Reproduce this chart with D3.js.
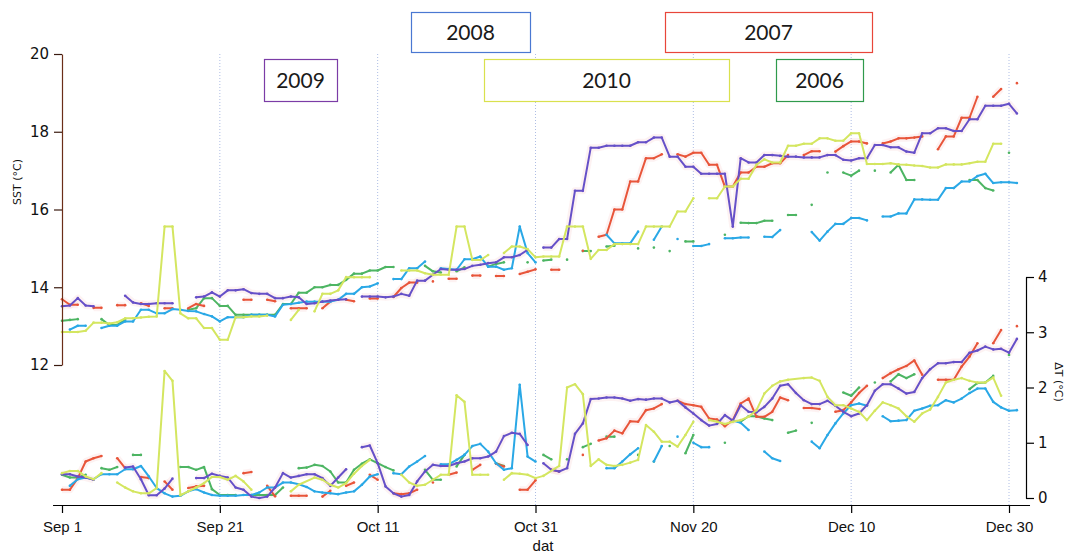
<!DOCTYPE html>
<html>
<head>
<meta charset="utf-8">
<script src="https://cdn.jsdelivr.net/npm/d3@7"></script>
<style>
body { margin: 0; background: #fff; }
svg { display: block; }
</style>
</head>
<body>
<svg id="chart"></svg>
<script>
// days counted from Sep 1, null = gap in the record
let sst2006 = [[0,13.14],[1,13.16],[2,13.18],null,[5,13.18],[6,13.03],[7,13.03],[8,13.16],null,
  [16,13.42],[17,13.46],[18,13.72],[19,13.72],[20,13.52],[21,13.52],[22,13.29],[23,13.29],[24,13.29],[25,13.29],[26,13.29],[27,13.29],[28,13.57],[29,13.57],[30,13.86],[31,13.86],[32,14.0],[33,14.0],[34,14.06],[35,14.06],[36,14.19],[37,14.35],[38,14.35],[39,14.43],[40,14.43],[41,14.52],[42,14.52],null,
  [46,14.55],[47,14.41],[48,14.38],null,[50,14.41],[51,14.51],null,[54,14.53],[55,14.6],[56,14.64],null,[59,14.64],null,[61,14.69],[62,14.71],null,[64,14.71],null,
  [66,14.93],[67,14.93],null,[69,15.05],[70,15.07],null,[73,15.0],null,[75,15.02],null,[77,14.93],null,[79,15.18],[80,15.18],null,[84,15.35],null,
  [86,15.66],[87,15.65],[88,15.65],[89,15.71],[90,15.71],null,[92,15.86],[93,15.86],null,[95,16.12],null,[97,16.95],null,[99,16.95],[100,16.87],[101,17.0],null,[103,17.0],null,
  [105,16.95],[106,17.15],[107,16.76],[108,16.76],null,[115,16.76],[116,16.76],[117,16.55],[118,16.49],null,[120,17.46]]

let sst2007 = [[0,13.69],[1,13.55],[2,13.55],null,[4,13.47],[5,13.47],null,[7,13.54],[8,13.54],null,[10,13.59],[11,13.52],null,[13,13.46],[14,13.46],null,[16,13.46],[17,13.57],[18,13.52],null,
  [23,13.68],[24,13.68],null,[26,13.68],[27,13.64],null,[29,13.46],[30,13.46],[31,13.46],null,[33,13.46],[34,13.63],null,[36,13.68],[37,13.64],null,[39,13.71],[40,13.71],null,
  [42,13.75],[43,13.98],[44,14.12],[45,14.12],null,[47,14.15],null,[49,14.22],[50,14.22],null,[52,14.30],[53,14.30],null,[55,14.29],[56,14.29],null,[58,14.34],[59,14.40],[60,14.46],null,
  [62,14.45],[63,14.45],null,[66,14.94],null,[68,15.30],[69,15.35],[70,16.0],[71,16.0],[72,16.72],[73,16.72],[74,17.32],[75,17.32],[76,17.42],null,
  [78,17.42],[79,17.36],[80,17.46],[81,17.46],[82,17.15],[83,17.15],[84,16.59],[85,16.59],[86,16.95],[87,16.95],[88,17.10],[89,17.10],[90,17.19],[91,17.19],[92,17.40],null,
  [94,17.40],[95,17.50],[96,17.50],null,[98,17.49],[99,17.63],[100,17.75],[101,17.75],[102,17.70],null,[104,17.70],[105,17.75],[106,17.83],[107,17.83],[108,17.85],[109,17.88],null,
  [111,17.55],[112,17.88],[113,17.88],[114,18.36],[115,18.36],[116,18.90],null,[118,18.90],[119,19.10],null,[121,19.25]]

let sst2008 = [[1,12.91],[2,13.01],[3,13.01],null,[5,12.95],[6,13.01],[7,13.01],[8,13.12],[9,13.12],[10,13.42],[11,13.42],[12,13.33],[13,13.33],[14,13.44],[15,13.42],[16,13.39],[17,13.38],[18,13.31],[19,13.25],[20,13.12],
  [21,13.23],[22,13.23],[23,13.23],[24,13.29],[25,13.29],[26,13.29],[27,13.25],[28,13.55],[29,13.57],[30,13.60],[31,13.63],[32,13.63],[33,13.63],[34,13.63],[35,13.68],[36,13.83],[37,13.83],[38,14.0],[39,14.02],[40,14.1],null,
  [42,14.21],[43,14.21],[44,14.49],[45,14.49],[46,14.66],null,[48,14.49],[49,14.47],[50,14.45],[51,14.72],[52,14.72],[53,14.79],[54,14.53],[55,14.53],[56,14.45],[57,14.49],[58,15.56],[59,14.88],[60,14.64],null,
  [69,15.35],[70,15.13],[71,15.13],[72,15.13],[73,15.43],null,[75,15.22],[76,15.56],null,[78,15.24],null,[80,15.06],[81,15.06],[82,15.11],null,[84,15.26],[85,15.26],[86,15.28],[87,15.28],null,[89,15.30],[90,15.29],[91,15.47],null,
  [95,15.42],[96,15.20],[97,15.43],[98,15.63],[99,15.63],[100,15.78],[101,15.78],[102,15.72],null,[104,15.82],[105,15.82],[106,15.90],[107,15.90],[108,16.26],[109,16.26],[110,16.25],[111,16.25],
  [112,16.55],[113,16.55],[114,16.72],[115,16.72],[116,16.86],[117,16.92],[118,16.68],[119,16.70],[120,16.70],[121,16.68]]

let sst2009 = [[0,13.51],[1,13.53],[2,13.72],[3,13.53],[4,13.51],null,[8,13.78],[9,13.61],[10,13.57],[11,13.57],[12,13.59],[13,13.59],[14,13.59],null,
  [17,13.74],[18,13.76],[19,13.87],[20,13.76],[21,13.92],[22,13.92],[23,13.95],[24,13.85],[25,13.83],[26,13.83],[27,13.72],[28,13.72],[29,13.76],[30,13.74],[31,13.57],[32,13.59],[33,13.63],[34,13.66],[35,13.68],[36,13.69],null,
  [38,13.76],[39,13.76],[40,13.76],[41,13.74],[42,13.76],[43,13.83],[44,13.78],[45,14.17],[46,14.17],[47,14.32],[48,14.47],[49,14.45],[50,14.45],[51,14.47],[52,14.55],[53,14.58],[54,14.62],[55,14.64],[56,14.77],[57,14.77],[58,14.83],[59,14.96],null,
  [61,15.02],[62,15.02],[63,15.24],[64,15.24],[65,16.48],[66,16.48],[67,17.59],[68,17.59],[69,17.64],[70,17.64],[71,17.64],[72,17.64],[73,17.73],[74,17.73],[75,17.85],[76,17.85],[77,17.36],[78,17.36],[79,17.10],[80,17.10],
  [81,16.92],[82,16.92],[83,16.92],[84,16.92],[85,15.56],[86,17.32],[87,17.21],[88,17.21],[89,17.40],[90,17.40],[91,17.38],[92,17.36],[93,17.36],[94,17.34],[95,17.34],[96,17.34],[97,17.40],[98,17.40],[99,17.28],[100,17.26],
  [101,17.32],[102,17.32],[103,17.66],[104,17.66],[105,17.60],[106,17.60],[107,17.49],[108,17.46],[109,17.96],[110,17.96],[111,18.09],[112,18.09],[113,18.02],[114,18.02],[115,18.32],[116,18.32],[117,18.67],[118,18.67],[119,18.67],[120,18.72],[121,18.47]]

let sst2010 = [[0,12.85],[1,12.85],[2,12.85],[3,12.88],[4,13.09],[5,13.09],[6,13.07],[7,13.1],[8,13.2],[9,13.2],[10,13.22],[11,13.24],[12,13.25],[13,15.56],[14,15.56],[15,13.33],[16,13.2],[17,13.2],[18,12.95],[19,12.95],[20,12.65],
  [21,12.65],[22,13.23],[23,13.23],[24,13.25],[25,13.25],[26,13.27],null,[29,13.16],[30,13.42],null,[32,13.38],[33,13.83],[34,13.83],[35,13.92],[36,14.26],[37,14.26],[38,14.26],[39,14.26],null,
  [43,14.43],[44,14.43],[45,14.43],[46,14.36],[47,14.32],[48,14.32],[49,14.32],[50,15.56],[51,15.56],[52,14.70],[53,14.70],[54,14.83],null,[56,14.88],[57,15.05],[58,15.05],[59,14.98],[60,14.77],
  [61,14.79],[62,14.79],[63,14.79],[64,15.56],[65,15.56],[66,15.56],[67,14.73],[68,14.96],[69,14.96],[70,15.11],[71,15.11],[72,15.11],[73,15.11],[74,15.56],[75,15.56],[76,15.56],[77,15.56],[78,15.95],[79,15.95],[80,16.29],null,
  [82,16.29],[83,16.29],[84,16.59],[85,16.59],[86,16.79],[87,16.79],[88,17.15],[89,17.29],[90,17.21],[91,17.21],[92,17.64],[93,17.64],[94,17.69],[95,17.69],[96,17.83],[97,17.83],[98,17.77],[99,17.77],[100,17.96],
  [101,17.96],[102,17.17],[103,17.17],[104,17.17],[105,17.19],[106,17.16],[107,17.15],[108,17.13],[109,17.12],[110,17.08],[111,17.08],[112,17.16],[113,17.16],[114,17.16],[115,17.19],[116,17.23],[117,17.23],[118,17.69],[119,17.69]]

let dt2006 = [[0,0.42],[1,0.37],[2,0.37],[3,0.42],null,[5,0.54],[6,0.51],[7,0.56],null,[9,0.78],[10,0.78],null,
  [15,0.56],[16,0.56],[17,0.51],[18,0.56],[19,0.16],[20,0.055],[21,0.055],[22,0.055],null,[24,0.055],[25,0.055],[26,0.055],[27,0.055],[28,0.19],null,
  [30,0.54],[31,0.55],[32,0.60],[33,0.58],[34,0.48],[35,0.28],[36,0.28],[37,0.51],[38,0.62],[39,0.70],[40,0.63],[41,0.56],[42,0.50],null,
  [46,0.51],[47,0.33],[48,0.33],null,[50,0.57],[51,0.78],null,[55,0.63],[56,0.58],null,[61,0.78],[62,0.70],null,[64,0.70],null,[66,0.92],[67,0.98],null,[69,1.11],[70,1.11],null,
  [73,0.78],null,[75,0.66],null,[77,0.94],null,[79,0.81],[80,1.14],null,[84,1.00],null,[86,1.38],[87,1.48],[88,1.48],[89,1.44],[90,1.41],null,[92,1.18],[93,1.22],null,[95,1.36],null,
  [99,1.91],[100,1.85],[101,2.0],null,[103,2.09],null,[105,2.11],[106,2.24],[107,2.17],[108,2.24],null,[115,1.97],[116,2.08],[117,2.09],[118,2.21],null,[120,2.59]]

let dt2007 = [[0,0.15],[1,0.15],[2,0.36],[3,0.66],[4,0.72],[5,0.76],null,[7,0.72],[8,0.54],null,[10,0.38],[11,0.36],null,[13,0.30],[14,0.15],null,[16,0.18],[17,0.21],[18,0.22],null,
  [23,0.45],[24,0.47],null,[26,0.22],[27,0.03],null,[29,0.04],[30,0.04],[31,0.04],null,[33,0.025],[34,0.13],null,[36,0.22],[37,0.28],null,[39,0.42],[40,0.33],null,
  [42,0.085],[43,0.07],[44,0.085],[45,0.15],null,[47,0.28],null,[49,0.42],[50,0.46],null,[52,0.51],[53,0.60],null,[55,0.62],[56,0.57],null,[58,0.15],[59,0.15],[60,0.32],null,
  [62,0.51],[63,0.48],null,[66,0.78],null,[68,1.04],[69,1.08],[70,1.22],[71,1.17],[72,1.39],[73,1.38],[74,1.59],[75,1.62],[76,1.70],null,
  [78,1.76],[79,1.70],[80,1.68],[81,1.65],[82,1.44],[83,1.42],[84,1.30],[85,1.41],[86,1.71],[87,1.80],[88,1.47],[89,1.47],[90,1.56],[91,1.82],[92,1.77],null,
  [94,1.63],[95,1.63],[96,1.61],null,[98,1.56],[99,1.59],[100,1.73],[101,1.90],[102,2.03],null,[104,2.17],[105,2.26],[106,2.33],[107,2.39],[108,2.49],[109,2.23],null,
  [111,2.14],[112,2.14],[113,2.14],[114,2.38],[115,2.56],[116,2.80],null,[118,2.80],[119,3.04],null,[121,3.11]]

let dt2008 = [[1,0.22],[2,0.34],[3,0.37],[4,0.34],[5,0.43],[6,0.43],[7,0.43],[8,0.52],[9,0.52],[10,0.58],[11,0.39],[12,0.18],[13,0.085],[14,0.025],[15,0.04],[16,0.12],[17,0.16],[18,0.10],[19,0.055],[20,0.04],
  [21,0.04],[22,0.04],[23,0.055],[24,0.055],[25,0.10],[26,0.19],[27,0.19],[28,0.28],[29,0.28],[30,0.25],[31,0.20],[32,0.12],[33,0.10],[34,0.085],[35,0.07],[36,0.10],[37,0.12],[38,0.24],[39,0.39],[40,0.43],null,
  [42,0.45],[43,0.43],[44,0.57],[45,0.66],[46,0.76],null,[48,0.61],[49,0.61],[50,0.69],[51,0.78],[52,0.94],[53,0.98],[54,0.84],[55,0.63],[56,0.51],[57,0.54],[58,2.05],[59,0.75],[60,0.66],null,
  [69,0.54],[70,0.54],[71,0.66],[72,0.79],[73,0.90],null,[75,0.66],[76,0.94],null,[78,1.11],null,[80,1.00],[81,0.92],[82,0.92],null,[85,1.40],[86,1.36],[87,1.23],null,[89,0.84],[90,0.72],[91,0.67],null,
  [95,1.02],[96,0.90],[97,1.14],[98,1.35],[99,1.53],[100,1.68],[101,1.71],[102,1.67],null,[104,1.48],[105,1.39],[106,1.40],[107,1.41],[108,1.58],[109,1.62],[110,1.67],[111,1.68],
  [112,1.77],[113,1.73],[114,1.80],[115,1.90],[116,1.98],[117,1.98],[118,1.74],[119,1.64],[120,1.58],[121,1.59]]

let dt2009 = [[0,0.43],[1,0.43],[2,0.39],[3,0.37],[4,0.33],null,[8,0.55],[9,0.57],[10,0.34],[11,0.05],[12,0.05],[13,0.17],[14,0.35],null,
  [17,0.36],[18,0.36],[19,0.44],[20,0.40],[21,0.37],[22,0.19],[23,0.15],[24,0.025],[25,0.0],[26,0.025],[27,0.19],[28,0.45],[29,0.37],[30,0.40],[31,0.43],[32,0.43],[33,0.36],[34,0.22],[35,0.37],[36,0.52],null,
  [38,0.92],[39,0.95],[40,0.63],[41,0.21],[42,0.085],[43,0.025],[44,0.055],[45,0.30],[46,0.48],[47,0.60],[48,0.58],[49,0.58],[50,0.63],[51,0.66],[52,0.72],[53,0.72],[54,0.75],[55,0.84],[56,1.12],[57,1.18],[58,1.16],[59,0.96],null,
  [61,0.63],[62,0.51],[63,0.48],[64,0.54],[65,1.16],[66,1.35],[67,1.79],[68,1.80],[69,1.82],[70,1.82],[71,1.80],[72,1.76],[73,1.79],[74,1.78],[75,1.80],[76,1.80],[77,1.73],[78,1.76],[79,1.64],[80,1.53],
  [81,1.41],[82,1.31],[83,1.34],[84,1.50],[85,1.40],[86,1.68],[87,1.56],[88,1.55],[89,1.65],[90,1.80],[91,2.03],[92,2.06],[93,1.90],[94,1.77],[95,1.70],[96,1.70],[97,1.76],[98,1.67],[99,1.56],[100,1.48],
  [101,1.53],[102,1.68],[103,1.94],[104,2.06],[105,2.06],[106,1.98],[107,1.89],[108,1.92],[109,2.17],[110,2.33],[111,2.44],[112,2.44],[113,2.46],[114,2.46],[115,2.63],[116,2.67],[117,2.74],[118,2.69],[119,2.70],[120,2.63],[121,2.88]]

let dt2010 = [[0,0.45],[1,0.49],[2,0.49],[3,0.39],[4,0.34],[5,0.45],null,[7,0.28],[8,0.19],[9,0.12],[10,0.085],[11,0.085],[12,0.18],[13,2.30],[14,2.12],[15,0.05],[16,0.12],[17,0.19],[18,0.27],[19,0.38],[20,0.38],
  [21,0.33],[22,0.40],[23,0.30],[24,0.15],null,[29,0.12],[30,0.24],[32,0.37],[33,0.33],[34,0.24],[35,0.19],[36,0.27],[37,0.44],[38,0.58],[39,0.69],null,
  [43,0.42],[44,0.28],[45,0.22],[46,0.24],[47,0.33],[48,0.42],[49,0.42],[50,1.86],[51,1.74],[52,0.42],[53,0.42],[54,0.42],null,[56,0.33],[57,0.45],[58,0.44],[59,0.42],[60,0.36],
  [61,0.40],[63,0.58],[64,2.0],[65,2.06],[66,1.88],[67,0.58],[68,0.70],[69,0.60],[70,0.58],[71,0.60],[72,0.64],[73,0.69],[74,1.32],[75,1.20],[76,1.02],[77,1.02],[78,0.93],[79,1.14],[80,1.38],null,
  [82,1.41],[83,1.38],[84,1.34],[85,1.38],[86,1.41],[87,1.47],[88,1.59],[89,1.89],[90,2.03],[91,2.11],[92,2.14],[94,2.17],[95,2.18],[96,2.12],[97,1.83],[98,1.68],[99,1.68],[100,1.62],
  [101,1.56],[102,1.41],[103,1.58],[104,1.73],[105,1.68],[106,1.62],[107,1.48],[108,1.38],[109,1.53],[110,1.60],[111,1.83],[112,2.09],[113,2.14],[114,2.17],[115,2.12],[116,2.09],[117,2.09],[118,2.18],[119,1.85]]

let years = ['2006', '2007', '2008', '2009', '2010']
let sstSeries = [sst2006, sst2007, sst2008, sst2009, sst2010]
let dtSeries = [dt2006, dt2007, dt2008, dt2009, dt2010]

let dayTicks = [0, 20, 40, 60, 80, 100, 120]
let sstTicks = [12, 14, 16, 18, 20]
let dtTicks = [0, 1, 2, 3, 4]

let lineColors = {'2006': '#4db563', '2007': '#e8553a', '2008': '#2aa8e6', '2009': '#6650c8', '2010': '#d4e660'}
let boxColors = {'2006': '#2f9a4c', '2007': '#e8463a', '2008': '#4a78d2', '2009': '#7b3ca6', '2010': '#d9e14e'}
// only the warm lines carry the faint pink blur of the original print
let haloYears = ['2007', '2009']

// legend boxes: [year, left, top, width, height]
let legendBoxes = [['2008', 411, 12, 119, 40], ['2007', 665, 12, 207, 40], ['2009', 264, 59, 73, 42], ['2010', 484, 59, 245, 42], ['2006', 776, 59, 87, 42]]

let width = 1071
let height = 554

let svg = d3.select('#chart')
    .attr('width', width)
    .attr('height', height)

let pxPerDay = (1009 - 62) / 120
let xScale = d3.scaleLinear()
    .domain([-1.2, 122.6])
    .range([62 - 1.2 * pxPerDay, 62 + 122.6 * pxPerDay])

let ySST = d3.scaleLinear().domain([12, 20]).range([365, 54])
let yDT = d3.scaleLinear().domain([0, 4]).range([498, 277])

let dayLabel = (d) => d3.timeFormat('%b %-d')(new Date(2009, 8, 1 + d))

// dotted grid at each date tick
svg.append('g')
    .selectAll('line')
    .data(dayTicks.slice(1))
    .enter()
    .append('line')
    .attr('x1', (d) => xScale(d))
    .attr('x2', (d) => xScale(d))
    .attr('y1', 54)
    .attr('y2', 505)
    .attr('stroke', '#aebde4')
    .attr('stroke-width', 1)
    .attr('stroke-dasharray', '1,2')

let halos = svg.append('g')
let lines = svg.append('g')

// draw one set of series against a y scale
let drawSeries = (list, yScale) => {
    let line = d3.line()
        .defined((d) => d !== null)
        .x((d) => xScale(d[0]))
        .y((d) => yScale(d[1]))

    list.forEach((values, i) => {
        let color = lineColors[years[i]]
        if (haloYears.includes(years[i])) {
            halos.append('path')
                .attr('d', line(values))
                .attr('fill', 'none')
                .attr('stroke', '#f8d4d4')
                .attr('stroke-opacity', 0.3)
                .attr('stroke-width', 7)
                .attr('stroke-linejoin', 'round')
        }
        lines.append('path')
            .attr('d', line(values))
            .attr('fill', 'none')
            .attr('stroke', color)
            .attr('stroke-width', 2)
            .attr('stroke-linejoin', 'round')
        lines.append('g')
            .selectAll('circle')
            .data(values.filter((d) => d !== null))
            .enter()
            .append('circle')
            .attr('cx', (d) => xScale(d[0]))
            .attr('cy', (d) => yScale(d[1]))
            .attr('r', 1.3)
            .attr('fill', color)
    })
}

drawSeries(sstSeries, ySST)
drawSeries(dtSeries, yDT)

// axes
let xAxis = d3.axisBottom(xScale)
    .tickValues(dayTicks)
    .tickFormat(dayLabel)
    .tickSize(8)
    .tickSizeOuter(0)

let leftAxis = d3.axisLeft(ySST)
    .tickValues(sstTicks)
    .tickSize(8)
    .tickSizeOuter(0)

let rightAxis = d3.axisRight(yDT)
    .tickValues(dtTicks)
    .tickFormat(d3.format('d'))
    .tickSize(8)
    .tickSizeOuter(0)

let gx = svg.append('g')
    .attr('transform', 'translate(0,505)')
    .call(xAxis)
gx.selectAll('text')
    .attr('font-family', '"Liberation Sans Narrow", "Liberation Sans", sans-serif')
    .attr('font-size', 15)
    .attr('fill', '#111')
    .attr('dy', '1.05em')

let gl = svg.append('g')
    .attr('transform', 'translate(62,0)')
    .call(leftAxis)
gl.select('.domain').attr('stroke', '#6b2e18')
gl.selectAll('.tick line').attr('stroke', '#3a1a10')
gl.selectAll('text')
    .attr('font-family', '"DejaVu Sans", sans-serif')
    .attr('font-size', 15)
    .attr('fill', '#111')
    .attr('x', -13)

let gr = svg.append('g')
    .attr('transform', 'translate(1026,0)')
    .call(rightAxis)
gr.selectAll('text')
    .attr('font-family', '"DejaVu Sans", sans-serif')
    .attr('font-size', 15)
    .attr('fill', '#111')
    .attr('x', 12)

svg.selectAll('.domain, .tick line').attr('stroke-width', 1.2)

// axis titles
svg.append('text')
    .attr('transform', 'translate(21,182) rotate(-90)')
    .attr('text-anchor', 'middle')
    .attr('font-family', '"DejaVu Sans", sans-serif')
    .attr('font-size', 11)
    .attr('fill', '#111')
    .text('SST (°C)')

svg.append('text')
    .attr('transform', 'translate(1055,382) rotate(90)')
    .attr('text-anchor', 'middle')
    .attr('font-family', '"DejaVu Sans", sans-serif')
    .attr('font-size', 11)
    .attr('fill', '#111')
    .text('ΔT (°C)')

svg.append('text')
    .attr('x', 543)
    .attr('y', 551)
    .attr('text-anchor', 'middle')
    .attr('font-family', '"Liberation Sans Narrow", "Liberation Sans", sans-serif')
    .attr('font-size', 15)
    .attr('fill', '#111')
    .text('dat')

// year labels in boxes
let boxes = svg.append('g')
    .selectAll('g')
    .data(legendBoxes)
    .enter()
    .append('g')

boxes.append('rect')
    .attr('x', (d) => d[1] + 0.5)
    .attr('y', (d) => d[2] + 0.5)
    .attr('width', (d) => d[3])
    .attr('height', (d) => d[4])
    .attr('fill', '#fff')
    .attr('stroke', (d) => boxColors[d[0]])
    .attr('stroke-width', 1.2)

boxes.append('text')
    .attr('x', (d) => d[1] + d[3] / 2)
    .attr('y', (d) => d[2] + d[4] / 2 + 7.5)
    .attr('text-anchor', 'middle')
    .attr('font-family', 'Lato, "Open Sans", sans-serif')
    .attr('font-size', 21)
    .attr('fill', '#1a1a1a')
    .text((d) => d[0])
</script>
</body>
</html>
